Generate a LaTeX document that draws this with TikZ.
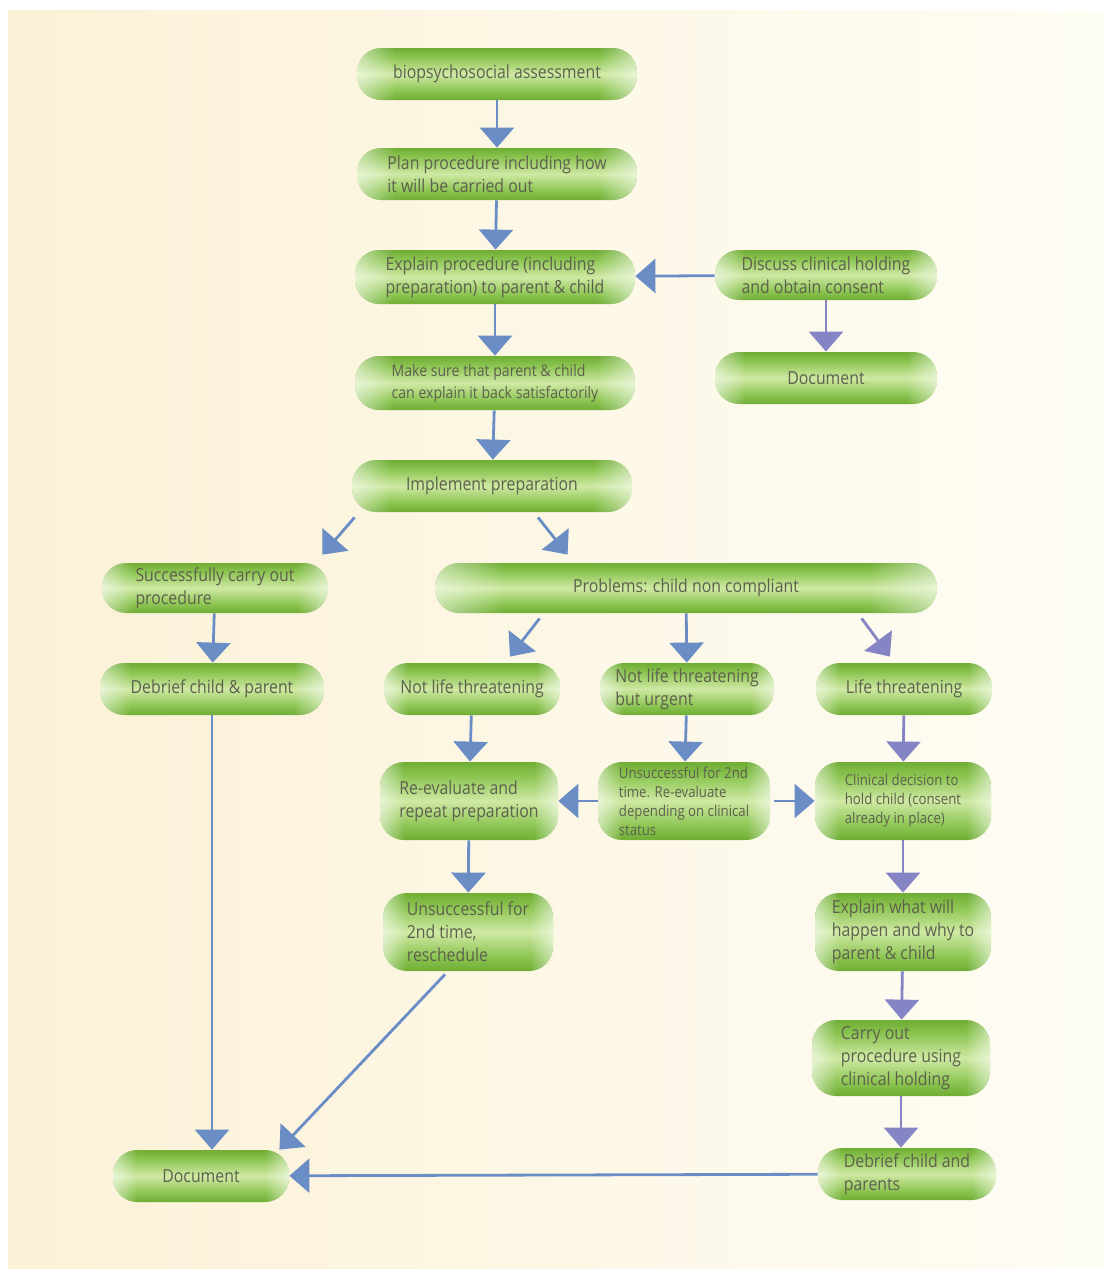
\documentclass[tikz,border=0pt]{standalone}
\usepackage{fontspec}
\setmainfont{Open Sans}[FakeStretch=0.88]
\usetikzlibrary{arrows.meta, calc, fadings}
\definecolor{cream}{HTML}{FBF1D6}
\definecolor{paper}{HTML}{FEFDF5}
\definecolor{leaf}{HTML}{8CC552}
\definecolor{leafdk}{HTML}{6FAD34}
\definecolor{leaflt}{HTML}{CFE9A4}
\definecolor{ink}{HTML}{5E604E}
\definecolor{flowblue}{HTML}{6B8DC6}
\definecolor{flowviolet}{HTML}{8585C6}
\pgfdeclareverticalshading{pillbody}{100bp}{color(0bp)=(leafdk); color(25bp)=(leafdk);
  color(34bp)=(leaf); color(50bp)=(leaflt); color(66bp)=(leaf); color(75bp)=(leafdk); color(100bp)=(leafdk)}
\pgfdeclarehorizontalshading{glowendsshade}{100bp}{color(0bp)=(pgftransparent!45); color(25bp)=(pgftransparent!45);
  color(32bp)=(pgftransparent!100); color(68bp)=(pgftransparent!100); color(75bp)=(pgftransparent!45); color(100bp)=(pgftransparent!45)}
\pgfdeclarefading{glowends}{\pgfuseshading{glowendsshade}}

\begin{document}
\begin{tikzpicture}[
  x=0.5pt, y=-0.5pt,
  >={Triangle[length=10pt, width=17pt]},
  pill/.style={rounded corners=12pt, shading=pillbody, shade,
               text=ink, font=\fontsize{9}{11.5}\selectfont, align=left, inner sep=2pt,
               path picture={\fill[white, path fading=glowends]
                 (path picture bounding box.south west) rectangle (path picture bounding box.north east);}},
  small/.style={font=\fontsize{7.5}{9.5}\selectfont},
  flow/.style={flowblue, line width=1.4pt, ->},
  flowv/.style={flowviolet, line width=1.4pt, ->},
]
\useasboundingbox (0,0) rectangle (1110,1276);

% Background
\shade[left color=cream, right color=paper] (8,10) rectangle (1104,1268);

% ============ Main column ============
\node[pill, minimum width=140pt, minimum height=26pt] (bio) at (497,74) {biopsychosocial assessment};
\node[pill, minimum width=140pt, minimum height=26pt] (plan) at (497,174) {Plan procedure including how\\it will be carried out};
\node[pill, minimum width=140pt, minimum height=27pt] (expl) at (495,277) {Explain procedure (including\\preparation) to parent \& child};
\node[pill, font=\fontsize{8}{11}\selectfont, minimum width=140pt, minimum height=27pt] (make) at (495,383) {Make sure that parent \& child\\can explain it back satisfactorily};
\node[pill, minimum width=140pt, minimum height=26pt] (impl) at (492,486) {Implement preparation};

% Consent branch
\node[pill, minimum width=111pt, minimum height=25pt] (disc) at (826,275) {Discuss clinical holding\\and obtain consent};
\node[pill, minimum width=111pt, minimum height=26pt] (doct) at (826,378) {Document};

% ============ Left: success ============
\node[pill, minimum width=113pt, minimum height=25pt] (succ) at (215,588) {Successfully carry out\\procedure};
\node[pill, minimum width=112pt, minimum height=26pt] (debc) at (212,689) {Debrief child \& parent};
\node[pill, minimum width=88pt, minimum height=26pt] (docb) at (201,1176) {Document};

% ============ Right: problems ============
\node[pill, minimum width=251pt, minimum height=25pt] (prob) at (686,588) {Problems: child non compliant};

\node[pill, minimum width=88pt, minimum height=26pt] (nlt) at (472,689) {Not life threatening};
\node[pill, minimum width=87pt, minimum height=26pt] (nltu) at (687,689) {Not life threatening\\but urgent};
\node[pill, minimum width=88pt, minimum height=26pt] (lt) at (904,689) {Life threatening};

\node[pill, minimum width=89pt, minimum height=39pt] (reev) at (469,801) {Re-evaluate and\\repeat preparation};
\node[pill, small, minimum width=86pt, minimum height=39pt] (unsu) at (684,801) {Unsuccessful for 2nd\\time. Re-evaluate\\depending on clinical\\status};
\node[pill, small, minimum width=88pt, minimum height=39pt] (clin) at (903,801) {Clinical decision to\\hold child (consent\\already in place)};

\node[pill, minimum width=85pt, minimum height=39pt] (resc) at (468,932) {Unsuccessful for\\2nd time,\\reschedule};
\node[pill, minimum width=88pt, minimum height=39pt] (expw) at (903,932) {Explain what will\\happen and why to\\parent \& child};
\node[pill, minimum width=89pt, minimum height=38pt] (carr) at (901,1058) {Carry out\\procedure using\\clinical holding};
\node[pill, minimum width=89pt, minimum height=26pt] (debp) at (907,1174) {Debrief child and\\parents};

% ============ Connectors ============
\draw[flow] (bio) -- (plan);
\draw[flow] (plan) -- (expl);
\draw[flow] (expl) -- (make);
\draw[flow] (make) -- (impl);
\draw[flow] (disc) -- (expl);
\draw[flowv] (disc) -- (doct);

\draw[flow] ($(impl.south west)+(3,5)$) -- ($(succ.north east)+(-6,-8)$);
\draw[flow] ($(impl.south)+(46,5)$) -- ($(prob.north west)+(133,-8)$);

\draw[flow] (succ) -- (debc);
\draw[flow] (debc.south) -- (debc.south |- docb.north);

\draw[flow] ($(prob.south west)+(105,5)$) -- ($(nlt.north)+(38,-6)$);
\draw[flow] (prob) -- (nltu);
\draw[flowv] ($(prob.south west)+(427,5)$) -- ($(lt.north)+(-14,-6)$);

\draw[flow] (nlt) -- (reev);
\draw[flow] (nltu) -- (unsu);
\draw[flowv] (lt) -- (clin);

\draw[flow] (unsu) -- (reev);
\draw[flow] ($(unsu.east)+(4,0)$) -- (clin);

\draw[flow] (reev) -- (resc);
\draw[flowv] (clin) -- (expw);
\draw[flowv] (expw) -- (carr);
\draw[flowv] (carr.south) -- (carr.south |- debp.north);

\draw[flow] ($(resc.south)+(-23,3)$) -- ($(docb.north east)+(-10,0)$);
\draw[flow] (debp) -- (docb);

\end{tikzpicture}
\end{document}
